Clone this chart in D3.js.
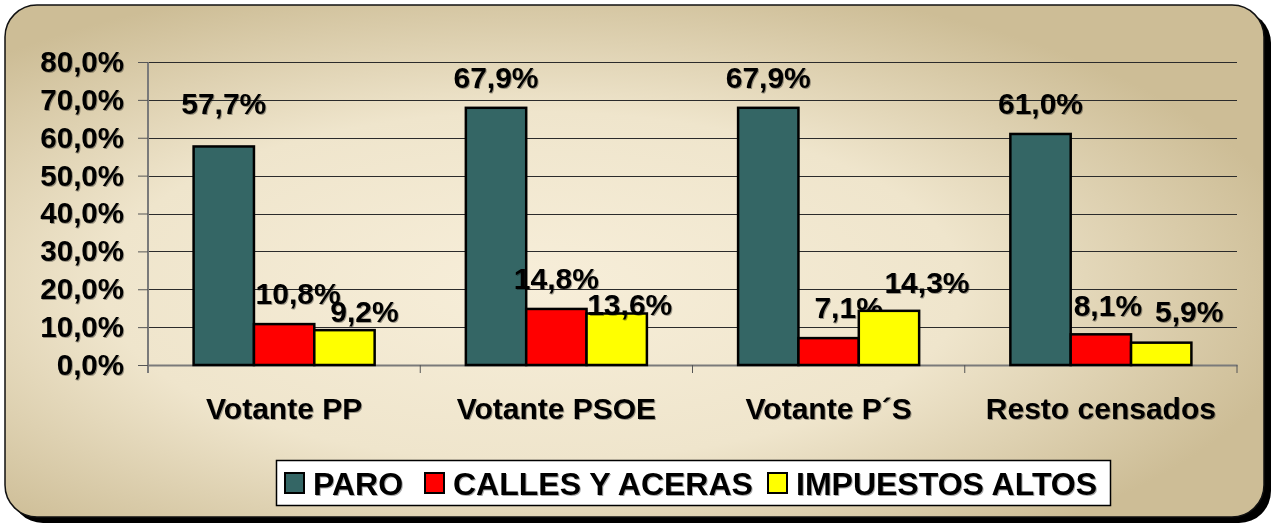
<!DOCTYPE html>
<html>
<head>
<meta charset="utf-8">
<script src="https://cdn.jsdelivr.net/npm/d3@7"></script>
<style>
  html, body { margin: 0; padding: 0; background: #fff; }
  svg { display: block; font-family: "Liberation Sans", Arial, sans-serif; font-weight: bold; }
</style>
</head>
<body>
<svg width="1273" height="524"></svg>
<script>
var categories = ["Votante PP", "Votante PSOE", "Votante P\u00b4S", "Resto censados"];
var seriesNames = ["PARO", "CALLES Y ACERAS", "IMPUESTOS ALTOS"];
var paro = [0.577, 0.679, 0.679, 0.610];
var calles = [0.108, 0.148, 0.071, 0.081];
var impuestos = [0.092, 0.136, 0.143, 0.059];
var yTicks = [0, 0.1, 0.2, 0.3, 0.4, 0.5, 0.6, 0.7, 0.8];

var colors = ["#346665", "#ff0000", "#ffff00"];
// hand nudges for the data labels, the way they sit in the original [series][category]
var labelNudge = [
  [[0, -12], [0, 0], [0, 0], [0, 0]],
  [[14, 0], [0, 0], [20, 0], [7, 2]],
  [[20, 12], [13, 22], [38, 2], [28, 0]]
];

var svg = d3.select("svg"),
    width = +svg.attr("width"),
    height = +svg.attr("height");

var values = [paro, calles, impuestos];
var fmt = function(v) { return (v * 100).toFixed(1).replace(".", ",") + "%"; };

// background panel
var defs = svg.append("defs");
var grad = defs.append("radialGradient")
    .attr("id", "bg")
    .attr("cx", "42%").attr("cy", "55%").attr("r", "62%");
grad.append("stop").attr("offset", "0%").attr("stop-color", "#f7eed9");
grad.append("stop").attr("offset", "55%").attr("stop-color", "#efe5cc");
grad.append("stop").attr("offset", "100%").attr("stop-color", "#cdbd96");

var txtShadow = defs.append("filter").attr("id", "ts")
    .attr("x", "-10%").attr("y", "-10%").attr("width", "130%").attr("height", "140%");
txtShadow.append("feDropShadow")
    .attr("dx", 1).attr("dy", 1).attr("stdDeviation", 0.6)
    .attr("flood-color", "#000").attr("flood-opacity", 0.35);

svg.append("rect")
    .attr("x", 11).attr("y", 11)
    .attr("width", 1260).attr("height", 512)
    .attr("rx", 32)
    .attr("fill", "#000");

svg.append("rect")
    .attr("x", 5).attr("y", 5)
    .attr("width", 1259).attr("height", 512)
    .attr("rx", 32)
    .attr("fill", "url(#bg)")
    .attr("stroke", "#111")
    .attr("stroke-width", 1.5);

var margin = {left: 148, right: 1237, top: 62, bottom: 365};

var x = d3.scaleBand()
    .domain(categories)
    .range([margin.left, margin.right])
    .paddingInner(0.335)
    .paddingOuter(0.1675);

var xs = d3.scaleBand()
    .domain(d3.range(seriesNames.length))
    .range([0, x.bandwidth()]);

var y = d3.scaleLinear()
    .domain([0, 0.8])
    .range([margin.bottom, margin.top]);

// gridlines
svg.append("g")
  .selectAll("line")
  .data(yTicks.slice(1))
  .enter().append("line")
    .attr("x1", margin.left).attr("x2", margin.right)
    .attr("y1", function(d) { return Math.round(y(d)) + 0.5; })
    .attr("y2", function(d) { return Math.round(y(d)) + 0.5; })
    .attr("stroke", "#2b2b2b")
    .attr("stroke-width", 1.2);

// y axis
var yAxis = svg.append("g")
    .attr("transform", "translate(" + margin.left + ",0)")
    .call(d3.axisLeft(y).tickValues(yTicks).tickFormat(fmt).tickSize(10).tickPadding(14));
yAxis.select(".domain").attr("stroke", "#7a7a7a").attr("stroke-width", 2)
    .attr("d", "M0," + (margin.top) + "V" + (margin.bottom + 8));
yAxis.selectAll(".tick line").attr("stroke", "#555");
yAxis.selectAll("text")
    .attr("fill", "#000")
    .style("font-size", "29.5px")
    .style("font-weight", "bold")
    .attr("filter", "url(#ts)");

// x axis
var xAxis = svg.append("g")
    .attr("transform", "translate(0," + margin.bottom + ")")
    .call(d3.axisBottom(x).tickSize(0).tickPadding(33));
xAxis.select(".domain").attr("stroke", "#7a7a7a").attr("stroke-width", 2);
xAxis.selectAll("text")
    .attr("fill", "#000")
    .style("font-size", "30px")
    .style("font-weight", "bold")
    .attr("filter", "url(#ts)");
svg.append("g")
  .selectAll("line")
  .data(categories)
  .enter().append("line")
    .attr("x1", function(d) { return x(d) - x.step() * x.paddingInner() / 2 + x.step(); })
    .attr("x2", function(d) { return x(d) - x.step() * x.paddingInner() / 2 + x.step(); })
    .attr("y1", margin.bottom).attr("y2", margin.bottom + 8)
    .attr("stroke", "#555");

// bars
var groups = svg.append("g")
  .selectAll("g")
  .data(values)
  .enter().append("g")
    .attr("fill", function(d, i) { return colors[i]; });

groups.each(function(series, si) {
  d3.select(this).selectAll("rect")
    .data(series)
    .enter().append("rect")
      .attr("x", function(d, ci) { return x(categories[ci]) + xs(si); })
      .attr("y", function(d) { return y(d); })
      .attr("width", xs.bandwidth())
      .attr("height", function(d) { return y(0) - y(d); })
      .attr("stroke", "#000")
      .attr("stroke-width", 2.5);
});

// data labels
groups.each(function(series, si) {
  d3.select(this).selectAll("text")
    .data(series)
    .enter().append("text")
      .attr("x", function(d, ci) { return x(categories[ci]) + xs(si) + xs.bandwidth() / 2 + labelNudge[si][ci][0]; })
      .attr("y", function(d, ci) { return y(d) - 31 + labelNudge[si][ci][1]; })
      .attr("dy", "0.36em")
      .attr("text-anchor", "middle")
      .attr("fill", "#000")
      .style("font-size", "30px")
      .attr("filter", "url(#ts)")
      .text(fmt);
});

// legend
var legend = svg.append("g");
legend.append("rect")
    .attr("x", 276.5).attr("y", 460.5)
    .attr("width", 834).attr("height", 45)
    .attr("fill", "#fff")
    .attr("stroke", "#000")
    .attr("stroke-width", 1.5);

var legendX = [285, 425, 768];
var item = legend.selectAll(".item")
  .data(seriesNames)
  .enter().append("g")
    .attr("class", "item")
    .attr("transform", function(d, i) { return "translate(" + legendX[i] + ",473)"; });
item.append("rect")
    .attr("width", 19).attr("height", 20)
    .attr("fill", function(d, i) { return colors[i]; })
    .attr("stroke", "#000")
    .attr("stroke-width", 2);
item.append("text")
    .attr("x", 28).attr("y", 10)
    .attr("dy", "0.36em")
    .style("font-size", "32px")
    .attr("fill", "#000")
    .attr("filter", "url(#ts)")
    .text(function(d) { return d; });
</script>
</body>
</html>
